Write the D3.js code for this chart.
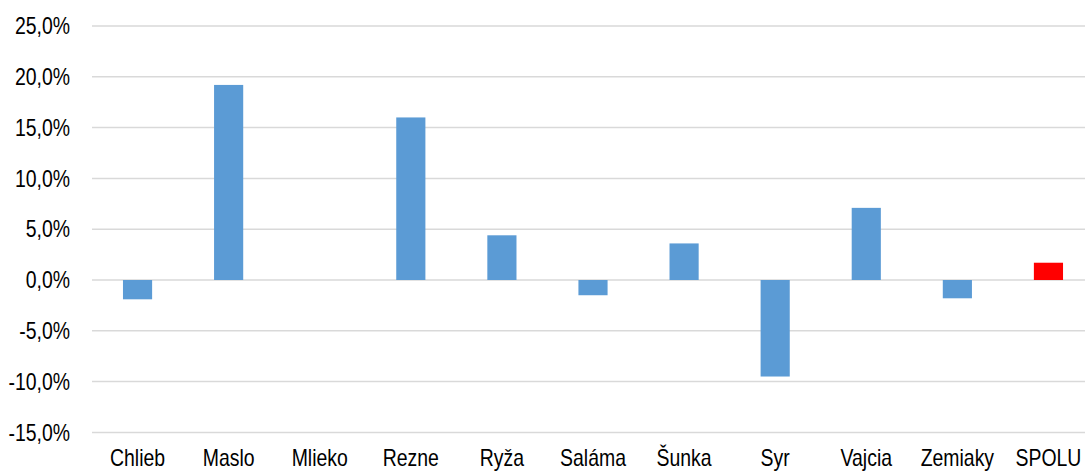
<!DOCTYPE html>
<html><head><meta charset="utf-8">
<script src="https://cdn.jsdelivr.net/npm/d3@7"></script>
<style>body{margin:0;background:#fff;overflow:hidden}svg{display:block}text{font-family:"Liberation Sans",Arial,sans-serif;fill:#000}</style>
</head><body><svg id="c" width="1085" height="471"></svg>
<script>
const categories = ["Chlieb","Maslo","Mlieko","Rezne","Ryža","Saláma","Šunka","Syr","Vajcia","Zemiaky","SPOLU"];
const values = [-1.9, 19.2, 0.0, 16.0, 4.4, -1.5, 3.6, -9.5, 7.1, -1.8, 1.7];
const yTicks = [-15,-10,-5,0,5,10,15,20,25];
const barColor = "#5b9bd5", totalColor = "#ff0000";

const svg = d3.select("#c");
const x = d3.scaleBand().domain(categories).range([92, 1094]).paddingInner(0.68).paddingOuter(0.34);
const y = d3.scaleLinear().domain([-15, 25]).range([432.4, 26]);
const fmt = v => v.toFixed(1).replace(".", ",") + "%";
const sx = 0.845;

svg.append("g").selectAll("line").data(yTicks).join("line")
  .attr("x1", 92).attr("x2", 1094)
  .attr("y1", d => y(d)).attr("y2", d => y(d))
  .attr("stroke", "#d9d9d9").attr("stroke-width", 1.5);

svg.append("g").selectAll("text").data(yTicks).join("text")
  .attr("transform", d => `translate(70,${y(d)}) scale(${sx},1)`)
  .attr("dy", "0.36em")
  .attr("text-anchor", "end").attr("font-size", 23)
  .text(fmt);

svg.append("g").selectAll("rect").data(categories).join("rect")
  .attr("x", d => x(d))
  .attr("width", x.bandwidth())
  .attr("y", (d, i) => y(Math.max(0, values[i])))
  .attr("height", (d, i) => Math.abs(y(values[i]) - y(0)))
  .attr("fill", (d, i) => d === "SPOLU" ? totalColor : barColor);

svg.append("g").selectAll("text").data(categories).join("text")
  .attr("transform", d => `translate(${x(d) + x.bandwidth() / 2},465.5) scale(${sx},1)`)
  .attr("text-anchor", "middle").attr("font-size", 23)
  .text(d => d);
</script></body></html>
